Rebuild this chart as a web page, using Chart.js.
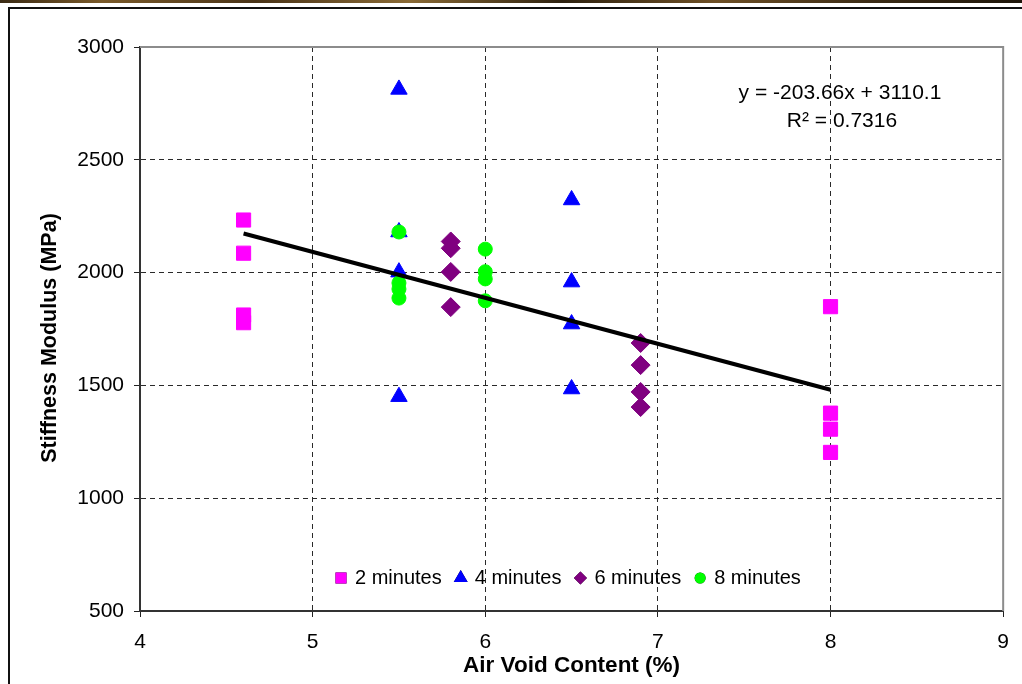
<!DOCTYPE html>
<html>
<head>
<meta charset="utf-8">
<script src="https://cdn.jsdelivr.net/npm/chart.js@4.4.0/dist/chart.umd.min.js"></script>
<style>
  html, body { margin: 0; padding: 0; background: #fff; }
  body { width: 1022px; height: 684px; position: relative; overflow: hidden; }
  #strip {
    position: absolute; left: 0; top: 0; width: 1022px; height: 3px;
    background: linear-gradient(90deg, #3a2a14, #7a5a2a 10%, #4a3418 25%, #8a6a36 40%, #2e2210 55%, #6e5026 70%, #3c2c16 85%, #1e160a);
  }
  #frame { position: absolute; left: 8px; top: 7px; width: 1100px; height: 800px; border: 2px solid #111; }
  #wrap { position: absolute; left: 0; top: 0; width: 1022px; height: 684px; }
</style>
</head>
<body>
<div id="strip"></div>
<div id="frame"></div>
<div id="wrap"><canvas id="stiffnessChart"></canvas></div>
<script>
const FONT = "'Liberation Sans', Arial, sans-serif";

// compaction time series: air voids (%) vs stiffness (MPa)
const seriesNames = ["2 minutes", "4 minutes", "6 minutes", "8 minutes"];
const mins2X = [4.6, 4.6, 4.6, 4.6, 8, 8, 8, 8];
const mins2Y = [2233, 2086, 1812, 1778, 1849, 1377, 1306, 1203];
const mins4X = [5.5, 5.5, 5.5, 5.5, 6.5, 6.5, 6.5, 6.5];
const mins4Y = [2812, 2180, 2002, 1450, 2322, 1958, 1772, 1484];
const mins6X = [5.8, 5.8, 5.8, 5.8, 6.9, 6.9, 6.9, 6.9];
const mins6Y = [2138, 2108, 2003, 1847, 1688, 1590, 1471, 1404];
const mins8X = [5.5, 5.5, 5.5, 5.5, 6, 6, 6, 6];
const mins8Y = [2180, 1954, 1927, 1887, 2104, 2004, 1972, 1875];

// linear trendline over all points
const trendSlope = -203.66;
const trendIntercept = 3110.1;
const trendR2 = 0.7316;
const trendXRange = [4.6, 8];

const xTicks = [4, 5, 6, 7, 8, 9];
const yTicks = [500, 1000, 1500, 2000, 2500, 3000];

const toPoints = (xs, ys) => xs.map((x, i) => ({ x, y: ys[i] }));

function markerSet(label, xs, ys, color, style, radius, order) {
  return {
    label,
    data: toPoints(xs, ys),
    pointStyle: style,
    pointRadius: radius,
    pointHoverRadius: radius,
    backgroundColor: color,
    borderColor: color,
    borderWidth: 1,
    order,
  };
}

const trendSet = {
  label: "trend",
  data: trendXRange.map((x) => ({ x, y: trendSlope * x + trendIntercept })),
  showLine: true,
  borderColor: "#000",
  borderWidth: 4,
  pointRadius: 0,
  pointHoverRadius: 0,
  fill: false,
  order: 0,
};

const dataSets = [
  markerSet(seriesNames[0], mins2X, mins2Y, "#ff00ff", "rect", 10, 4),
  markerSet(seriesNames[1], mins4X, mins4Y, "#0000ff", "triangle", 9.5, 3),
  markerSet(seriesNames[2], mins6X, mins6Y, "#800080", "rectRot", 9.5, 2),
  markerSet(seriesNames[3], mins8X, mins8Y, "#00ff00", "circle", 7, 1),
  trendSet,
];

// legend marker radii (smaller than the plotted markers)
const legendRadius = { rect: 7.8, triangle: 8, rectRot: 6.5, circle: 5.5 };

const overlayPlugin = {
  id: "overlay",
  beforeDatasetsDraw(chart) {
    const { ctx, chartArea: a } = chart;
    ctx.save();
    ctx.strokeStyle = "#8c8c8c";
    ctx.lineWidth = 2;
    ctx.beginPath();
    ctx.moveTo(a.left, a.top);
    ctx.lineTo(a.right, a.top);
    ctx.lineTo(a.right, a.bottom);
    ctx.stroke();
    ctx.restore();
  },
  afterDraw(chart) {
    const ctx = chart.ctx;
    ctx.save();
    ctx.font = "20px " + FONT;
    ctx.fillStyle = "#000";
    ctx.textBaseline = "middle";

    // legend row inside the plot, above the x axis
    let x = 334;
    const y = 578;
    chart.data.datasets.forEach((ds) => {
      if (ds.label === "trend") return;
      Chart.helpers.drawPoint(ctx, {
        pointStyle: ds.pointStyle,
        radius: legendRadius[ds.pointStyle],
        rotation: 0,
        borderWidth: 0,
      }, x + 7, y);
      ctx.fillStyle = ds.backgroundColor;
      ctx.fill();
      ctx.fillStyle = "#000";
      ctx.textAlign = "left";
      ctx.fillText(ds.label, x + 21, y);
      x += 21 + ctx.measureText(ds.label).width + 12;
    });

    // trendline equation
    ctx.font = "21px " + FONT;
    ctx.textAlign = "center";
    const sign = trendIntercept >= 0 ? "+" : "-";
    ctx.fillText(`y = ${trendSlope}x ${sign} ${Math.abs(trendIntercept)}`, 840, 93);
    ctx.fillText(`R\u00b2 = ${trendR2}`, 842, 121);

    // y axis title
    ctx.font = "bold 21.5px " + FONT;
    ctx.translate(50, 338);
    ctx.rotate(-Math.PI / 2);
    ctx.fillText("Stiffness Modulus (MPa)", 0, 0);
    ctx.restore();
  },
};

const axisGrid = (edgeValues) => ({
  color: (c) => (c.tick && edgeValues.includes(c.tick.value) ? "rgba(0,0,0,0)" : "#2a2a2a"),
  lineWidth: 1,
  tickColor: "#222",
  tickLength: 6,
  tickWidth: 1,
});

new Chart(document.getElementById("stiffnessChart"), {
  type: "scatter",
  data: { datasets: dataSets },
  plugins: [overlayPlugin],
  options: {
    responsive: true,
    maintainAspectRatio: false,
    animation: false,
    layout: { padding: { top: 47, right: 16, left: 0, bottom: 0 } },
    plugins: {
      legend: { display: false },
      tooltip: { enabled: false },
    },
    scales: {
      x: {
        type: "linear",
        min: xTicks[0],
        max: xTicks[xTicks.length - 1],
        afterFit: (scale) => { scale.height = 73; },
        afterBuildTicks: (scale) => { scale.ticks = xTicks.map((v) => ({ value: v })); },
        grid: axisGrid([xTicks[0], xTicks[xTicks.length - 1]]),
        border: { display: true, color: "#333", width: 2, dash: [5, 4] },
        ticks: {
          color: "#000",
          padding: 13,
          font: { family: FONT, size: 21 },
          callback: (v) => String(v),
        },
        title: {
          display: true,
          text: "Air Void Content (%)",
          color: "#000",
          font: { family: FONT, size: 22.5, weight: "bold" },
          padding: { top: 0, bottom: 5 },
        },
      },
      y: {
        type: "linear",
        min: yTicks[0],
        max: yTicks[yTicks.length - 1],
        afterFit: (scale) => { scale.width = 140; },
        afterBuildTicks: (scale) => { scale.ticks = yTicks.map((v) => ({ value: v })); },
        grid: axisGrid([yTicks[0], yTicks[yTicks.length - 1]]),
        border: { display: true, color: "#333", width: 2, dash: [5, 4] },
        ticks: {
          color: "#000",
          padding: 10,
          font: { family: FONT, size: 21 },
          callback: (v) => String(v),
        },
        title: { display: false },
      },
    },
  },
});
</script>
</body>
</html>
